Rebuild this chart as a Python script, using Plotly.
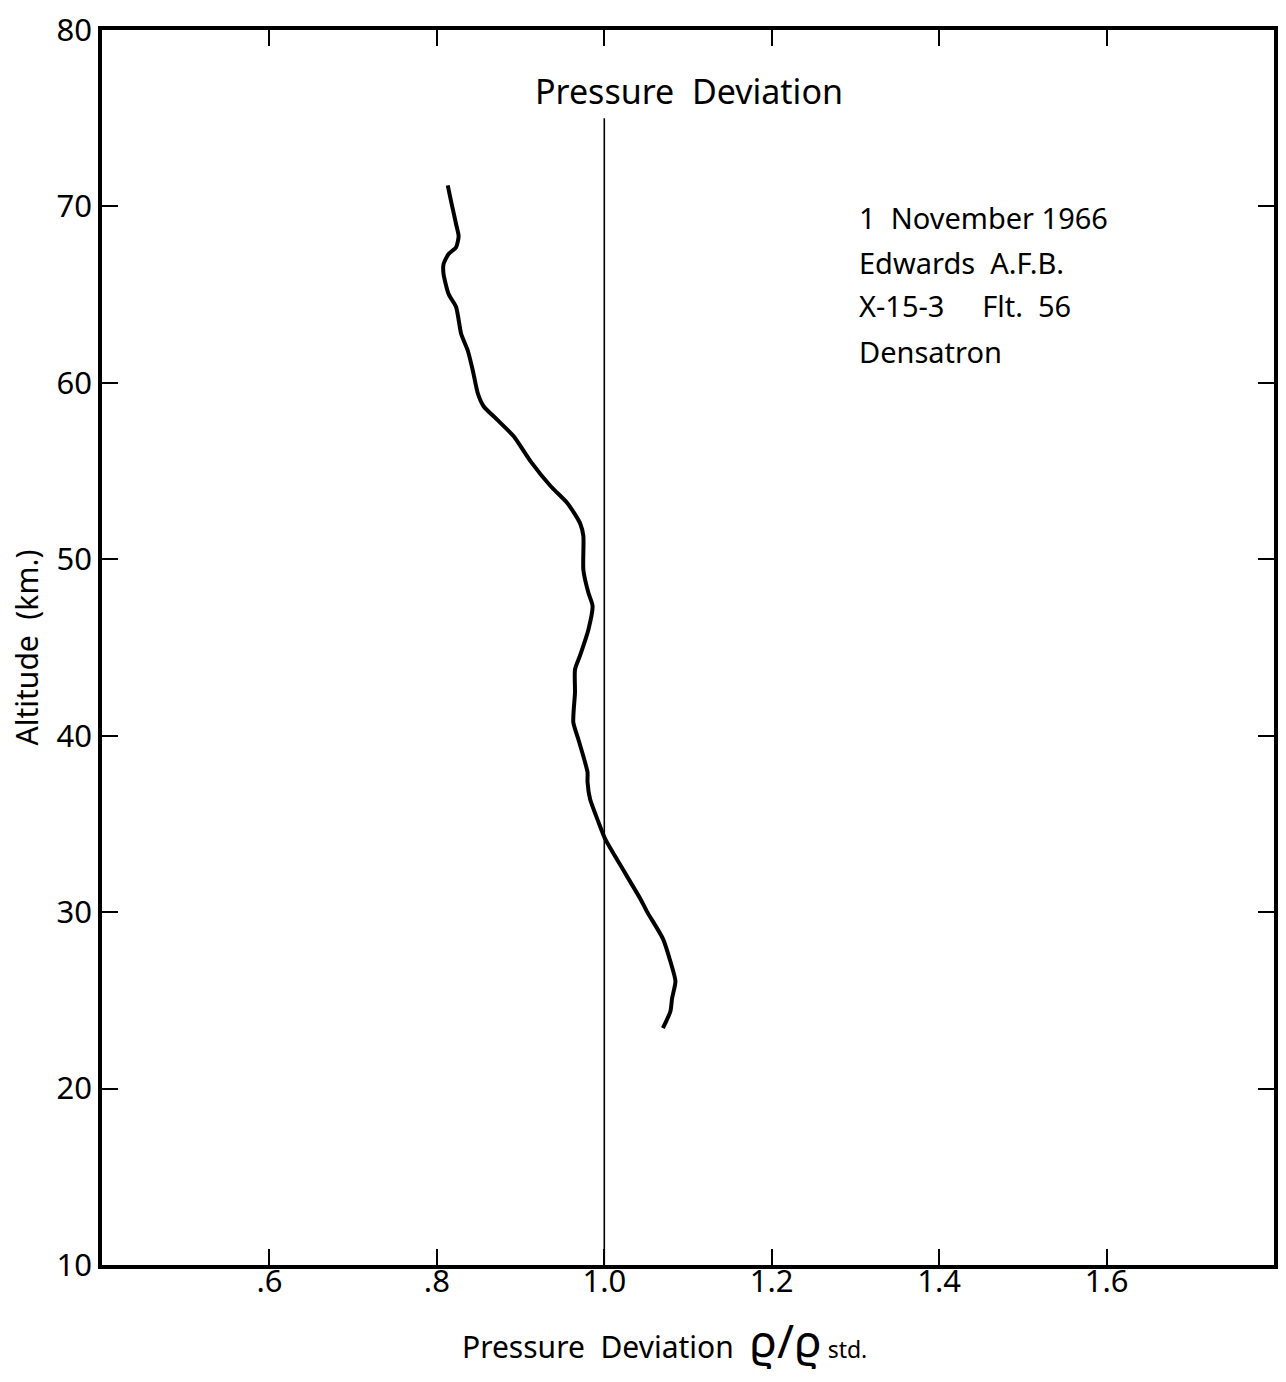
import plotly.graph_objects as go

# Traced profile: pressure deviation (rho/rho_std) vs altitude (km)
ratio = [0.813, 0.817, 0.823, 0.826, 0.823, 0.814, 0.808, 0.808, 0.814, 0.823,
         0.829, 0.837, 0.843, 0.849, 0.856, 0.873, 0.892, 0.912, 0.936, 0.956,
         0.971, 0.975, 0.975, 0.981, 0.986, 0.981, 0.971, 0.965, 0.965, 0.963,
         0.969, 0.977, 0.980, 0.980, 0.983, 0.993, 1.001, 1.019, 1.043, 1.051,
         1.070, 1.079, 1.085, 1.081, 1.079, 1.070]
altitude = [71.19, 70.29, 68.99, 68.31, 67.69, 67.30, 66.73, 66.17, 65.04, 64.30,
            62.78, 61.82, 60.69, 59.39, 58.66, 57.87, 56.96, 55.55, 54.14, 53.18,
            52.05, 51.32, 49.40, 48.10, 47.36, 46.01, 44.54, 43.75, 42.45, 40.76,
            39.80, 38.50, 37.93, 37.37, 36.41, 35.11, 34.15, 32.68, 30.76, 30.03,
            28.50, 27.20, 26.08, 25.12, 24.38, 23.42]

# Reference line at ratio = 1.0
ref_x = [1.0, 1.0]
ref_y = [10, 75.0]

x_tickvals = [0.6, 0.8, 1.0, 1.2, 1.4, 1.6]
x_ticktext = [".6", ".8", "1.0", "1.2", "1.4", "1.6"]
y_tickvals = [10, 20, 30, 40, 50, 60, 70, 80]
y_ticktext = ["10", "20", "30", "40", "50", "60", "70", "80"]

info_lines = ["1  November 1966", "Edwards  A.F.B.", "X-15-3     Flt.  56", "Densatron"]
info_alt = [69.4, 66.8, 64.4, 61.75]

FONT = "Noto Sans"

fig = go.Figure()
fig.add_trace(go.Scatter(x=ref_x, y=ref_y, mode="lines",
                         line=dict(color="black", width=1.6),
                         hoverinfo="skip", showlegend=False))
fig.add_trace(go.Scatter(x=ratio, y=altitude, mode="lines",
                         line=dict(color="black", width=4, shape="spline", smoothing=0.6),
                         showlegend=False))

fig.add_annotation(x=1.101, y=76.55, xref="x", yref="y", text="Pressure  Deviation",
                   showarrow=False, font=dict(family=FONT, size=34, color="black"))

for line, alt in zip(info_lines, info_alt):
    fig.add_annotation(x=1.302, y=alt, xref="x", yref="y", text=line,
                       showarrow=False, xanchor="left", yanchor="middle",
                       font=dict(family=FONT, size=29, color="black"))

# x-axis title (placed as annotation to match original off-centre position)
fig.add_annotation(x=0.48, y=-0.061, xref="paper", yref="paper", showarrow=False,
                   xanchor="center", yanchor="middle",
                   text="Pressure  Deviation  <span style='font-size:46px'>ϱ/ϱ</span><span style='font-size:23px'> std.</span>",
                   font=dict(family=FONT, size=30, color="black"))

fig.update_layout(
    width=1286, height=1382,
    margin=dict(l=102, r=8, t=25, b=117),
    plot_bgcolor="white", paper_bgcolor="white",
    font=dict(family=FONT, size=31, color="black"),
    xaxis=dict(range=[0.4, 1.8], tickvals=x_tickvals, ticktext=x_ticktext,
               ticks="inside", ticklen=16, tickwidth=2, tickcolor="black",
               showline=True, linewidth=3.5, linecolor="black", mirror="ticks",
               showgrid=False, zeroline=False, ticklabelstandoff=-14),
    yaxis=dict(range=[10, 80], tickvals=y_tickvals, ticktext=y_ticktext,
               ticks="inside", ticklen=16, tickwidth=2, tickcolor="black",
               showline=True, linewidth=3.5, linecolor="black", mirror="ticks",
               showgrid=False, zeroline=False,
               title=dict(text="Altitude  (km.)", font=dict(family=FONT, size=30), standoff=10)),
)

fig.write_html("out.html")
